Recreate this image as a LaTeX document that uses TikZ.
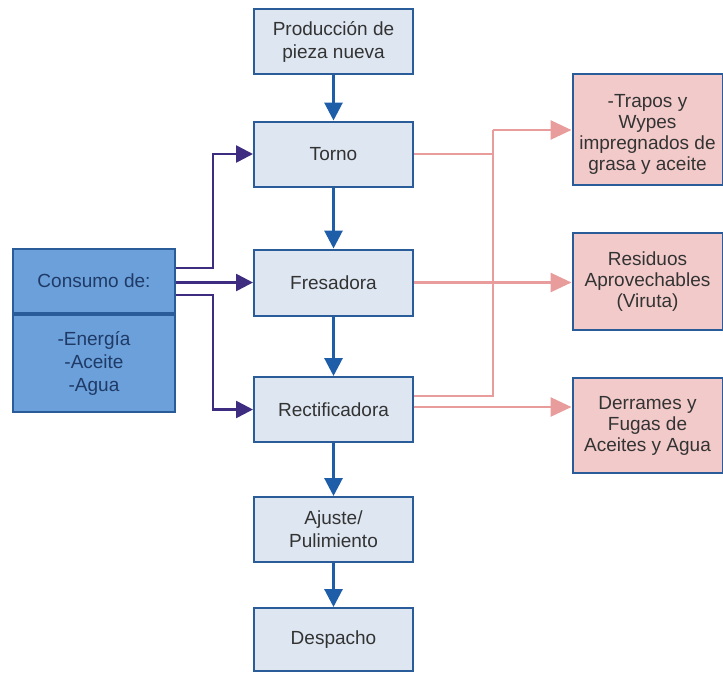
\documentclass[tikz,border=0pt]{standalone}
\usepackage{fontspec}
\setmainfont{Liberation Sans}
\usetikzlibrary{arrows.meta}

\definecolor{boxedge}{HTML}{2B5C9A}
\definecolor{stepfill}{HTML}{DDE6F1}
\definecolor{inputfill}{HTML}{6BA0DA}
\definecolor{wastefill}{HTML}{F3CACA}
\definecolor{flowblue}{HTML}{1E5DA8}
\definecolor{feedpurple}{HTML}{3E2C80}
\definecolor{wastepink}{HTML}{E99C9C}
\definecolor{txt}{HTML}{333333}
\definecolor{txtdark}{HTML}{1F3A66}

\tikzset{
  stepbox/.style={draw=boxedge, line width=2pt, fill=stepfill, minimum width=159pt,
    align=center, text=txt, font=\fontsize{19}{23}\selectfont, inner sep=0pt},
  wastebox/.style={draw=boxedge, line width=2pt, fill=wastefill, minimum width=150pt,
    align=center, text=txt, font=\fontsize{19}{21}\selectfont, inner sep=0pt},
  wastetext/.style={align=center, text=txt, font=\fontsize{19}{21}\selectfont, inner sep=0pt},
  inputbox/.style={draw=boxedge, line width=2pt, fill=inputfill, minimum width=162pt,
    align=center, text=txtdark, font=\fontsize{19}{23}\selectfont, inner sep=0pt},
  flow/.style={draw=flowblue, line width=3pt, -{Triangle[width=18pt,length=18pt]}},
  feed/.style={draw=feedpurple, line width=2.6pt, -{Triangle[width=17pt,length=17pt]}},
  waste/.style={draw=wastepink, line width=2.8pt, -{Triangle[width=19pt,length=21pt]}},
  wasteline/.style={draw=wastepink, line width=2.8pt},
}

\begin{document}
\begin{tikzpicture}[x=1pt, y=-1pt]
\useasboundingbox (0,0) rectangle (723,673);

% main process column
\node[stepbox, minimum height=65pt] (prod) at (333.5,41.5) {Producción de\\pieza nueva};
\node[stepbox, minimum height=65pt] (torno) at (333.5,154) {Torno};
\node[stepbox, minimum height=66pt] (fres) at (333.5,282.5) {Fresadora};
\node[stepbox, minimum height=65pt] (rect) at (333.5,409.5) {Rectificadora};
\node[stepbox, minimum height=65pt] (ajus) at (333.5,529.5) {Ajuste/\\Pulimiento};
\node[stepbox, minimum height=63pt] (desp) at (333.5,639.5) {Despacho};

% resource inputs
\node[inputbox, minimum height=64pt] (cons) at (94,281) {Consumo de:};
\node[inputbox, minimum height=97pt, anchor=north] (recs) at (cons.south) {-Energía\\-Aceite\\-Agua};

% waste outputs
\node[wastebox, minimum height=111pt] (trap) at (647.5,129.5) {};
\node[wastetext] (traptext) at (647.5,134) {-Trapos y\\Wypes\\impregnados de\\grasa y aceite};
\node[wastebox, minimum height=97pt] (resi) at (647.5,281.5) {Residuos\\Aprovechables\\(Viruta)};
\node[wastebox, minimum height=95pt] (derr) at (647.5,425.5) {Derrames y\\Fugas de\\Aceites y Agua};

% process flow
\draw[flow] (prod) -- (torno);
\draw[flow] (torno) -- (fres);
\draw[flow] (fres) -- (rect);
\draw[flow] (rect) -- (ajus);
\draw[flow] (ajus) -- (desp);

% inputs to machines
\coordinate (c1) at (cons.east |- 0,268);
\coordinate (c3) at (cons.east |- 0,295);
\draw[feed] (c1) -| (213,268) |- (torno.west);
\draw[feed] (cons.east |- fres.west) -- (fres.west);
\draw[feed] (c3) -| (213,295) |- (rect.west);

% waste collection
\coordinate (bus) at (493,130);
\draw[wasteline] (torno.east) -- (torno.east -| bus);
\draw[wasteline] (rect.east |- 0,396) -| (bus);
\draw[waste] (bus) -- (trap.west |- bus);
\draw[waste] (fres.east) -- (resi.west |- fres.east);
\draw[waste] (rect.east |- 0,407) -- (derr.west |- 0,407);
\end{tikzpicture}
\end{document}
